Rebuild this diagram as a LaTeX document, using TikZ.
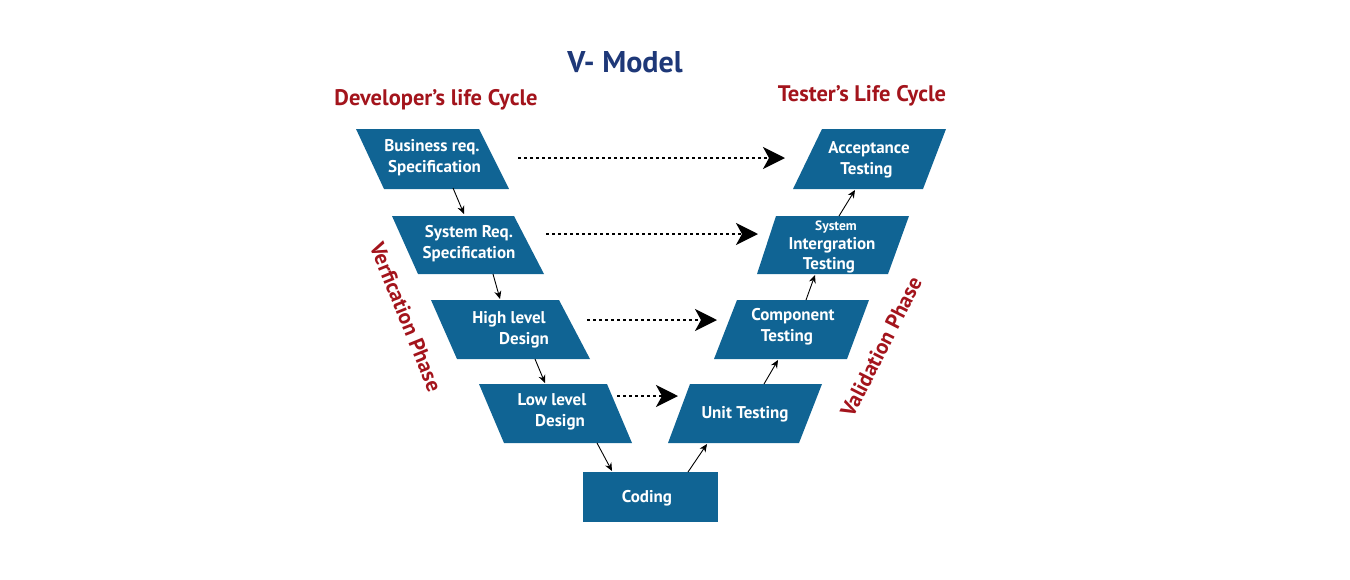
\documentclass[tikz,border=0pt]{standalone}
\usepackage{fontspec}
\setmainfont{PT Sans}
\usetikzlibrary{arrows.meta}
\definecolor{boxblue}{RGB}{16,100,148}
\definecolor{titleblue}{RGB}{30,56,120}
\definecolor{labelred}{RGB}{163,20,28}
\tikzset{
  boxfill/.style={fill=boxblue},
  boxtext/.style={text=white, font=\fontsize{17}{21}\selectfont\bfseries, align=center, inner sep=0pt},
  flow/.style={-{Stealth[length=8pt,width=7pt]}, line width=0.9pt},
  link/.style={dash pattern=on 3pt off 3pt, line width=2pt, -{Stealth[length=22pt,width=22pt,inset=6pt]}},
  phase/.style={text=labelred, font=\fontsize{21.5}{25}\selectfont\bfseries, inner sep=0pt},
  cycle label/.style={text=labelred, font=\fontsize{22.5}{26}\selectfont\bfseries, inner sep=0pt},
}
\begin{document}
\begin{tikzpicture}[x=1pt,y=-1pt]
\useasboundingbox (0,0) rectangle (1350,579);
% left boxes
\fill[boxfill] (356,129) -- (479,129) -- (509,189) -- (384,189) -- cycle;
\fill[boxfill] (392,216) -- (514,216) -- (544,274) -- (418,274) -- cycle;
\fill[boxfill] (431,300) -- (559,300) -- (590,359) -- (457,359) -- cycle;
\fill[boxfill] (479,384) -- (607,384) -- (632,443) -- (504,443) -- cycle;
\fill[boxfill] (583,472) rectangle (718,522);
% right boxes
\fill[boxfill] (690,384) -- (822,384) -- (799,443) -- (668,443) -- cycle;
\fill[boxfill] (737,300) -- (869,300) -- (847,359) -- (714,359) -- cycle;
\fill[boxfill] (776,216) -- (909,216) -- (888,274) -- (757,274) -- cycle;
\fill[boxfill] (822,129) -- (946,129) -- (923,189) -- (793,189) -- cycle;
% texts
\node[boxtext] (brs) at (432,157.5) {Business req.\\\hspace*{5pt}Specification};
\node[boxtext] (srs) at (469,243.5) {System Req.\\Specification};
\node[boxtext] (hld) at (509,329.5) {High level\\\hspace*{30pt}Design};
\node[boxtext] (lld) at (552,411.5) {Low level\\\hspace*{16pt}Design};
\node[boxtext] (cod) at (647,498.5) {Coding};
\node[boxtext] (ut) at (745,414.5) {Unit Testing};
\node[boxtext] (ct) at (793,326.5) {Component\\Testing\hspace*{12pt}};
\node[boxtext, font=\fontsize{17}{19.5}\selectfont\bfseries] (sit) at (832,246.5) {{\fontsize{13.5}{15}\selectfont System}\hspace*{-8pt}\\Intergration\\Testing\hspace*{6pt}};
\node[boxtext] (at) at (869,159.5) {Acceptance\\Testing\hspace*{5pt}};
% connector ends
\coordinate (brsB) at (453,188); \coordinate (srsT) at (464,214);
\coordinate (srsB) at (493,274); \coordinate (hldT) at (500,299);
\coordinate (hldB) at (535,359); \coordinate (lldT) at (545,383);
\coordinate (lldB) at (597,443); \coordinate (codT) at (612,471);
\coordinate (codT2) at (688,472); \coordinate (utB) at (707,444);
\coordinate (utT) at (764,384); \coordinate (ctB) at (778,360);
\coordinate (ctT) at (806,300); \coordinate (sitB) at (815,275);
\coordinate (sitT) at (839,216); \coordinate (atB) at (855,190);
\draw[flow] (brsB) -- (srsT);
\draw[flow] (srsB) -- (hldT);
\draw[flow] (hldB) -- (lldT);
\draw[flow] (lldB) -- (codT);
\draw[flow] (codT2) -- (utB);
\draw[flow] (utT) -- (ctB);
\draw[flow] (ctT) -- (sitB);
\draw[flow] (sitT) -- (atB);
% dotted links
\coordinate (l1a) at (518,158); \coordinate (l1b) at (785,158);
\coordinate (l2a) at (546,234); \coordinate (l2b) at (758,234);
\coordinate (l3a) at (587,320); \coordinate (l3b) at (717,320);
\coordinate (l4a) at (617,396); \coordinate (l4b) at (678,396);
\draw[link] (l1a) -- (l1b);
\draw[link] (l2a) -- (l2b);
\draw[link] (l3a) -- (l3b);
\draw[link] (l4a) -- (l4b);
% titles
\node[text=titleblue, font=\fontsize{30}{33}\selectfont\bfseries, inner sep=0pt] (title) at (625,62) {V- Model};
\node[cycle label] (dev) at (436,100) {Developer’s life Cycle};
\node[cycle label] (tes) at (862,96) {Tester’s Life Cycle};
\node[phase, rotate=-68] (ver) at (406,317) {Verfication Phase};
\node[phase, rotate=63] (val) at (881,347) {Validation Phase};
\end{tikzpicture}
\end{document}
